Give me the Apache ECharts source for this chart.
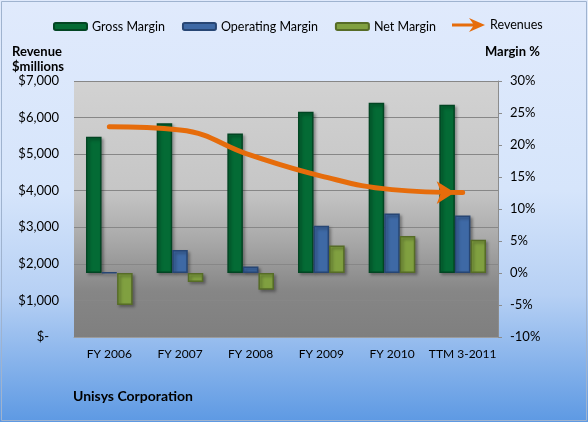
<!DOCTYPE html>
<html>
<head>
<meta charset="utf-8">
<script src="https://cdn.jsdelivr.net/npm/echarts@6/dist/echarts.min.js"></script>
<style>
html,body{margin:0;padding:0;background:#fff;}
#c{width:588px;height:422px;}
</style>
</head>
<body>
<div id="c"></div>
<script>
// ---- data ----
const categories = ['FY 2006', 'FY 2007', 'FY 2008', 'FY 2009', 'FY 2010', 'TTM 3-2011'];
const grossMargin = [21.3, 23.4, 21.8, 25.2, 26.6, 26.3];       // %
const operatingMargin = [0.1, 3.6, 1.0, 7.4, 9.3, 9.0];         // %
const netMargin = [-5.0, -1.4, -2.6, 4.3, 5.8, 5.2];            // %
const revenues = [5750, 5660, 4970, 4400, 4030, 3950];          // $ millions
const revenueTicks = { min: 0, max: 7000, interval: 1000 };
const marginTicks = { min: -10, max: 30, interval: 5 };

const FONT = 'Lato';
const chart = echarts.init(document.getElementById('c'), null, { renderer: 'canvas' });

function vgrad(stops) {
  return new echarts.graphic.LinearGradient(0, 0, 0, 1, stops.map(s => ({ offset: s[0], color: s[1] })));
}

const revData = revenues.map((v, i) => i === revenues.length - 1
  ? { value: v, symbol: 'arrow', symbolSize: [17, 18], symbolRotate: -90, symbolOffset: [-8, 0] }
  : v);

const barStyle = (c, b) => ({
  color: c, borderColor: b, borderWidth: 1.5,
  shadowColor: 'rgba(0,0,0,0.35)', shadowBlur: 3, shadowOffsetX: 2, shadowOffsetY: 2
});

chart.setOption({
  animation: false,
  backgroundColor: vgrad([[0, '#e0eafc'], [0.45, '#d6e5fb'], [0.7, '#b6d0f4'], [1, '#5d99e3']]),
  textStyle: { fontFamily: FONT },
  graphic: [{
    type: 'rect', shape: { x: 1.5, y: 1.5, width: 585, height: 419 },
    style: { fill: 'none', stroke: '#9fb3cf', lineWidth: 1 }, silent: true
  }],
  title: [
    { text: 'Revenue\n$millions', left: 12, top: 44, padding: 0,
      textStyle: { fontFamily: FONT, fontSize: 13, fontWeight: 'bold', color: '#000', lineHeight: 15 } },
    { text: 'Margin %', left: 485, top: 45, padding: 0,
      textStyle: { fontFamily: FONT, fontSize: 13, fontWeight: 'bold', color: '#000' } },
    { text: 'Unisys Corporation', left: 73, top: 389, padding: 0,
      textStyle: { fontFamily: FONT, fontSize: 14, fontWeight: 'bold', color: '#000' } }
  ],
  legend: [{
    data: ['Gross Margin', 'Operating Margin', 'Net Margin'],
    left: 53, top: 20, padding: 0, itemWidth: 33, itemHeight: 7, itemGap: 17,
    textStyle: { fontFamily: FONT, fontSize: 12.5, color: '#000' }
  }, {
    data: [{ name: 'Revenues', icon: 'path://M0,5.5 L21,5.5 L17,0 L33,7 L17,14 L21,8.5 L0,8.5 Z' }],
    left: 452, top: 18, padding: 0, itemWidth: 33, itemHeight: 14,
    textStyle: { fontFamily: FONT, fontSize: 12.5, color: '#000' }
  }],
  grid: {
    left: 74, right: 90, top: 81, bottom: 85, show: true, borderWidth: 0,
    backgroundColor: vgrad([[0, '#d2d2d2'], [0.42, '#c6c6c6'], [0.62, '#a9a9a9'], [0.82, '#868686'], [1, '#7f7f7f']])
  },
  xAxis: {
    type: 'category', data: categories,
    axisLine: { onZero: false, lineStyle: { color: '#9c9c9c' } },
    axisTick: { inside: true, length: 4, lineStyle: { color: '#9c9c9c' } },
    axisLabel: { fontFamily: FONT, fontSize: 12, color: '#000', margin: 11, interval: 0 }
  },
  yAxis: [{
    type: 'value', min: revenueTicks.min, max: revenueTicks.max, interval: revenueTicks.interval,
    axisLine: { show: false }, axisTick: { show: false },
    splitLine: { lineStyle: { color: '#878787', width: 1 } },
    axisLabel: {
      fontFamily: FONT, fontSize: 13, color: '#000', margin: 15,
      formatter: v => v === 0 ? '$-   ' : '$' + v.toLocaleString('en-US')
    }
  }, {
    type: 'value', min: marginTicks.min, max: marginTicks.max, interval: marginTicks.interval,
    position: 'right',
    axisLine: { show: true, lineStyle: { color: '#8c8c8c' } },
    axisTick: { show: true, length: 4, lineStyle: { color: '#8c8c8c' } },
    splitLine: { show: false },
    axisLabel: { fontFamily: FONT, fontSize: 13, color: '#000', margin: 12, formatter: '{value}%' }
  }],
  series: [
    { name: 'Gross Margin', type: 'bar', yAxisIndex: 1, data: grossMargin,
      barGap: '0%', barCategoryGap: '34%', itemStyle: barStyle('#046b35', '#024523') },
    { name: 'Operating Margin', type: 'bar', yAxisIndex: 1, data: operatingMargin,
      itemStyle: barStyle('#3e69a5', '#274674') },
    { name: 'Net Margin', type: 'bar', yAxisIndex: 1, data: netMargin,
      itemStyle: barStyle('#80a040', '#566c27') },
    { name: 'Revenues', type: 'line', yAxisIndex: 0, data: revData, z: 5,
      smooth: 0.45, symbol: 'none', showSymbol: true,
      itemStyle: { color: '#e66c0b' },
      lineStyle: { color: '#e66c0b', width: 5, cap: 'round' } }
  ]
});
</script>
</body>
</html>
